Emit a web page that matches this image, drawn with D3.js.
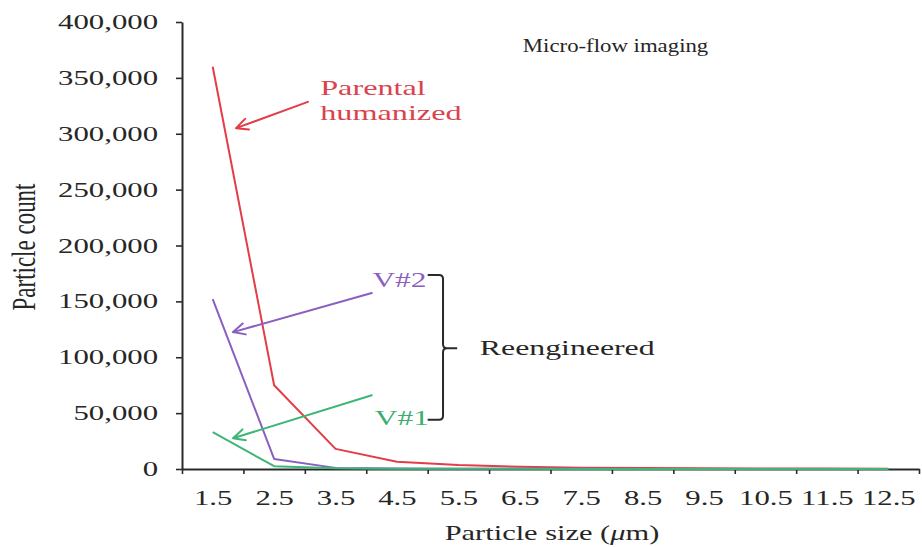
<!DOCTYPE html>
<html>
<head>
<meta charset="utf-8">
<script src="https://cdn.jsdelivr.net/npm/d3@7"></script>
<style>
  html, body { margin: 0; padding: 0; background: #fff; }
  svg { display: block; font-family: "Liberation Serif", "Times New Roman", serif; }
</style>
</head>
<body>
<div id="chart"></div>
<script>
// Données (taille des particules en µm, nombre de particules)
const sizes = [1.5, 2.5, 3.5, 4.5, 5.5, 6.5, 7.5, 8.5, 9.5, 10.5, 11.5, 12.5];
const parental = [360000, 75000, 18000, 6500, 3600, 2000, 1200, 800, 600, 450, 350, 300];
const v2 = [152000, 9000, 1000, 500, 300, 200, 150, 100, 100, 80, 60, 50];
const v1 = [33000, 2500, 700, 300, 200, 150, 100, 80, 60, 50, 40, 30];
const yTicks = [0, 50000, 100000, 150000, 200000, 250000, 300000, 350000, 400000];
const edgeTicks = [1, 2, 3, 4, 5, 6, 7, 8, 9, 10, 11, 12, 13];

const width = 922;
const height = 547;
const SX = 1.5; // le texte de la figure est étiré horizontalement

const colors = { red: "#e33d47", purple: "#8a5fc0", green: "#3db676", ink: "#2a2a2a", text: "#262626" };

const svg = d3.select("#chart")
    .append("svg")
    .attr("width", width)
    .attr("height", height);

// Échelles
const x = d3.scaleLinear().domain([1, 13]).range([182, 919]);
const y = d3.scaleLinear().domain([0, 400000]).range([469, 22]);

// étire un texte horizontalement autour de son point d'ancrage
function widen(sel, rot, sx) {
    sel.each(function () {
        const t = d3.select(this);
        const tx = +t.attr("x") || 0, ty = +t.attr("y") || 0;
        t.attr("x", 0).attr("y", 0)
            .attr("transform", `translate(${tx},${ty}) scale(${sx || SX},1)` + (rot ? ` rotate(${rot})` : ""));
    });
}

// Axe Y
const yAxis = svg.append("g")
    .attr("transform", `translate(${x(1)},0)`)
    .call(d3.axisLeft(y).tickValues(yTicks).tickFormat(d3.format(","))
        .tickSize(6).tickPadding(18).tickSizeOuter(0));
yAxis.attr("font-family", null).attr("font-size", 20.5);
yAxis.select(".domain").attr("stroke", colors.ink).attr("stroke-width", 2);
yAxis.selectAll(".tick line").attr("stroke", colors.ink).attr("stroke-width", 1.6);
yAxis.selectAll(".tick text").attr("fill", colors.text);
widen(yAxis.selectAll(".tick text"));

// Axe X : graduations entre les catégories
const xEdges = svg.append("g")
    .attr("transform", `translate(0,${y(0)})`)
    .call(d3.axisBottom(x).tickValues(edgeTicks).tickFormat("").tickSize(5).tickSizeOuter(0));
xEdges.select(".domain").attr("stroke", colors.ink).attr("stroke-width", 2);
xEdges.selectAll(".tick line").attr("stroke", colors.ink).attr("stroke-width", 1.6);

// Axe X : libellés centrés
const xLabels = svg.append("g")
    .attr("transform", `translate(0,${y(0)})`)
    .call(d3.axisBottom(x).tickValues(sizes).tickFormat(d => String(d)).tickSize(0).tickPadding(22));
xLabels.attr("font-family", null).attr("font-size", 20.5);
xLabels.select(".domain").remove();
xLabels.selectAll(".tick text").attr("fill", colors.text).attr("dy", "0.66em");
widen(xLabels.selectAll(".tick text"));

// Titres des axes
const yTitle = svg.append("text")
    .attr("x", 35).attr("y", 247)
    .attr("text-anchor", "middle")
    .attr("font-size", 23)
    .attr("fill", colors.text)
    .text("Particle count");
widen(yTitle, -90);

const xTitle = svg.append("text")
    .attr("x", 552).attr("y", 540)
    .attr("text-anchor", "middle")
    .attr("font-size", 20.3)
    .attr("fill", colors.text);
xTitle.append("tspan").text("Particle size (");
xTitle.append("tspan").attr("font-style", "italic").text("\u03bc");
xTitle.append("tspan").text("m)");
widen(xTitle);

// Courbes
const line = d3.line()
    .x((d, i) => x(sizes[i]))
    .y(d => y(d));

[[parental, colors.red], [v2, colors.purple], [v1, colors.green]].forEach(([vals, c]) => {
    svg.append("path")
        .datum(vals)
        .attr("fill", "none")
        .attr("stroke", c)
        .attr("stroke-width", 2)
        .attr("stroke-linejoin", "round")
        .attr("d", line);
});

// Annotations (en unités de données)
function arrow(from, to, c) {
    const x1 = x(from[0]), y1 = y(from[1]), x2 = x(to[0]), y2 = y(to[1]);
    const a = Math.atan2(y1 - y2, x1 - x2);
    const L = 13, s = 0.45;
    const p = d3.path();
    p.moveTo(x1, y1); p.lineTo(x2, y2);
    p.moveTo(x2 + L * Math.cos(a + s), y2 + L * Math.sin(a + s));
    p.lineTo(x2, y2);
    p.lineTo(x2 + L * Math.cos(a - s), y2 + L * Math.sin(a - s));
    svg.append("path").attr("d", p.toString())
        .attr("fill", "none").attr("stroke", c).attr("stroke-width", 2)
        .attr("stroke-linecap", "round").attr("stroke-linejoin", "round");
}

function note(px, py, txt, c, size, sx) {
    const t = svg.append("text")
        .attr("x", x(px)).attr("y", y(py))
        .attr("font-size", size || 21)
        .attr("fill", c)
        .text(txt);
    widen(t, null, sx);
    return t;
}

note(6.55, 373000, "Micro-flow imaging", colors.text, 19, 1.2);

note(3.25, 335000, "Parental", "#d9434e", 21.5);
note(3.25, 312500, "humanized", "#d9434e", 21.5);
arrow([3.05, 328500], [1.88, 305000], colors.red);

note(4.1, 163000, "V#2", "#8a5fc0");
arrow([4.09, 157500], [1.83, 122500], colors.purple);

note(4.14, 39000, "V#1", "#3aae6e");
arrow([4.09, 66000], [1.83, 27500], colors.green);

// Accolade "Reengineered"
const bx = x(5.25), bTop = y(173600), bBot = y(44000), bMid = y(108000), r = 4;
const bp = d3.path();
bp.moveTo(x(5.0), bTop);
bp.lineTo(bx - r, bTop);
bp.quadraticCurveTo(bx, bTop, bx, bTop + r);
bp.lineTo(bx, bMid - r);
bp.quadraticCurveTo(bx, bMid, bx + r, bMid);
bp.lineTo(x(5.48), bMid);
bp.moveTo(bx + r, bMid);
bp.quadraticCurveTo(bx, bMid, bx, bMid + r);
bp.lineTo(bx, bBot - r);
bp.quadraticCurveTo(bx, bBot, bx - r, bBot);
bp.lineTo(x(5.0), bBot);
svg.append("path").attr("d", bp.toString())
    .attr("fill", "none").attr("stroke", colors.ink).attr("stroke-width", 2);

note(5.85, 102000, "Reengineered", colors.text, 21.2);
</script>
</body>
</html>
